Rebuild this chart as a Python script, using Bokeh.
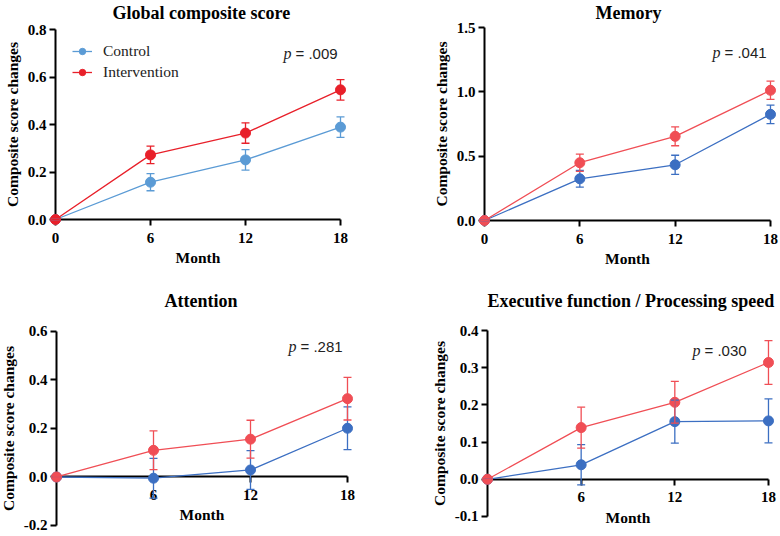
from bokeh.plotting import figure
from bokeh.models import (Range1d, LinearAxis, FixedTicker, PrintfTickFormatter, Whisker,
                          TeeHead, ColumnDataSource, Legend, LegendItem, Label)
from bokeh.layouts import column, row
from bokeh.embed import file_html
from bokeh.resources import INLINE

# ---------------- data ----------------
months = [0, 6, 12, 18]
series_names = ["Control", "Intervention"]
titles = ["Global composite score", "Memory", "Attention", "Executive function / Processing speed"]
p_values = [".009", ".041", ".281", ".030"]

global_control = [0, 0.157, 0.251, 0.389]
global_control_sem = [0, 0.036, 0.043, 0.043]
global_interv = [0, 0.272, 0.364, 0.546]
global_interv_sem = [0, 0.037, 0.043, 0.043]

memory_control = [0, 0.324, 0.433, 0.825]
memory_control_sem = [0, 0.065, 0.074, 0.072]
memory_interv = [0, 0.449, 0.654, 1.012]
memory_interv_sem = [0, 0.067, 0.073, 0.071]

attention_control = [0, -0.005, 0.029, 0.201]
attention_control_sem = [0, 0.082, 0.080, 0.088]
attention_interv = [0, 0.110, 0.156, 0.323]
attention_interv_sem = [0, 0.080, 0.078, 0.088]

exec_control = [0, 0.039, 0.155, 0.157]
exec_control_sem = [0, 0.054, 0.058, 0.059]
exec_interv = [0, 0.139, 0.207, 0.314]
exec_interv_sem = [0, 0.055, 0.056, 0.059]

y_ticks = [[0, 0.2, 0.4, 0.6, 0.8], [0, 0.5, 1.0, 1.5],
           [-0.2, 0, 0.2, 0.4, 0.6], [-0.1, 0, 0.1, 0.2, 0.3, 0.4]]
x_ticks = [[0, 6, 12, 18], [0, 6, 12, 18], [6, 12, 18], [6, 12, 18]]

# ---------------- styling / layout ----------------
SERIF = "Liberation Serif"
SANS = "Liberation Sans"
W, H = 390, 268

panels = [
    dict(data=(global_control, global_control_sem, global_interv, global_interv_sem),
         colors=("#5B9BD5", "#E8202A"), xr=(-3.474, 21.158), yr=(-0.2063, 0.8295),
         ybounds=(0, 0.8), top=22, title_x=112, pxy=(14.4, 0.699)),
    dict(data=(memory_control, memory_control_sem, memory_interv, memory_interv_sem),
         colors=("#3C6FC2", "#F04E55"), xr=(-5.915, 18.63), yr=(-0.373, 1.5389),
         ybounds=(0, 1.5), top=22, title_x=205, pxy=(14.35, 1.306)),
    dict(data=(attention_control, attention_control_sem, attention_interv, attention_interv_sem),
         colors=("#3C6FC2", "#F04E55"), xr=(-3.464, 20.66), yr=(-0.2454, 0.6866),
         ybounds=(-0.2, 0.6), top=42, title_x=164, pxy=(14.35, 0.538)),
    dict(data=(exec_control, exec_control_sem, exec_interv, exec_interv_sem),
         colors=("#3C6FC2", "#F04E55"), xr=(-6.214, 18.77), yr=(-0.1538, 0.4538),
         ybounds=(-0.1, 0.4), top=42, title_x=97, pxy=(13.13, 0.346)),
]


def style_axis(ax):
    ax.axis_line_width = 2
    ax.axis_line_color = "black"
    ax.major_tick_line_width = 2
    ax.major_tick_line_color = "black"
    ax.major_tick_out = 6
    ax.major_tick_in = 0
    ax.minor_tick_line_color = None
    ax.major_label_text_font = SERIF
    ax.major_label_text_font_style = "bold"
    ax.major_label_text_font_size = "15px"
    ax.major_label_text_color = "black"
    ax.axis_label_text_font = SERIF
    ax.axis_label_text_font_style = "bold"
    ax.axis_label_text_font_size = "15.5px"
    ax.axis_label_text_color = "black"
    ax.level = "underlay"


figs = []
for i, cfg in enumerate(panels):
    p = figure(width=W, height=H, x_range=Range1d(*cfg["xr"]), y_range=Range1d(*cfg["yr"]),
               x_axis_type=None, y_axis_type=None, output_backend="svg", toolbar_location=None,
               min_border_left=0, min_border_right=0, min_border_top=cfg["top"],
               min_border_bottom=0, title=titles[i])
    p.outline_line_color = None
    p.background_fill_color = "white"
    p.border_fill_color = "white"
    p.title.align = "left"
    p.title.offset = cfg["title_x"]
    p.title.text_font = SERIF
    p.title.text_font_style = "bold"
    p.title.text_font_size = "18px"
    p.title.text_color = "black"
    p.title.standoff = 0

    xaxis = LinearAxis(fixed_location=0, ticker=FixedTicker(ticks=x_ticks[i]),
                       bounds=(0, 18), axis_label="Month")
    style_axis(xaxis)
    xaxis.major_label_standoff = 7
    xaxis.axis_label_standoff = 3
    p.add_layout(xaxis, "below")

    yaxis = LinearAxis(fixed_location=0, ticker=FixedTicker(ticks=y_ticks[i]),
                       bounds=cfg["ybounds"], axis_label="Composite score changes",
                       formatter=PrintfTickFormatter(format="%.1f"))
    style_axis(yaxis)
    yaxis.major_label_standoff = 3
    yaxis.axis_label_standoff = 4
    p.add_layout(yaxis, "left")

    c_vals, c_sem, t_vals, t_sem = cfg["data"]
    items = []
    for name, vals, sem, color in [(series_names[0], c_vals, c_sem, cfg["colors"][0]),
                                   (series_names[1], t_vals, t_sem, cfg["colors"][1])]:
        src = ColumnDataSource(dict(x=months, y=vals,
                                    lower=[v - s for v, s in zip(vals, sem)],
                                    upper=[v + s for v, s in zip(vals, sem)]))
        wk = Whisker(base="x", upper="upper", lower="lower", source=src, dimension="height",
                     line_color=color, line_width=1.3,
                     upper_head=TeeHead(size=8, line_color=color, line_width=1.3),
                     lower_head=TeeHead(size=8, line_color=color, line_width=1.3))
        wk.level = "glyph"
        p.add_layout(wk)
        ln = p.line("x", "y", source=src, line_color=color, line_width=1.3)
        sc = p.scatter("x", "y", source=src, size=10, fill_color=color, line_color=color)
        items.append(LegendItem(label=name, renderers=[ln, sc]))

    if i == 0:
        leg = Legend(items=items, location=(72, 186), border_line_color=None,
                     background_fill_alpha=0, label_text_font=SERIF,
                     label_text_font_size="15.5px", label_text_color="#222222",
                     glyph_width=20, glyph_height=16, label_height=20, label_standoff=11,
                     spacing=1, padding=0, margin=0)
        p.add_layout(leg)

    px, py = cfg["pxy"]
    p.add_layout(Label(x=px, y=py, text="p", text_font=SERIF, text_font_style="italic",
                       text_font_size="16px", text_baseline="middle", text_align="left",
                       text_color="#222222"))
    p.add_layout(Label(x=px, y=py, x_offset=12, text="= " + p_values[i], text_font=SANS,
                       text_font_size="15px", text_baseline="middle", text_align="left",
                       text_color="#222222"))
    figs.append(p)

layout = column(row(figs[0], figs[1]), row(figs[2], figs[3]))
open("out.html", "w").write(file_html(layout, INLINE))
